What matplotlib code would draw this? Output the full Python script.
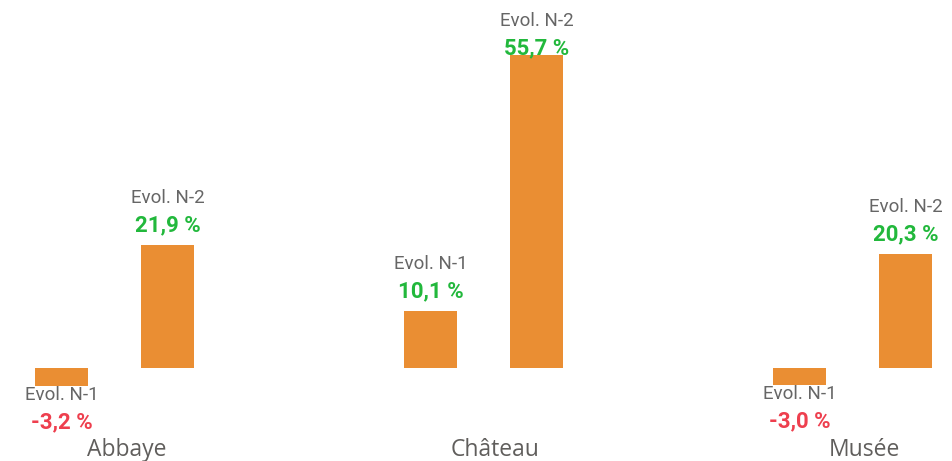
import matplotlib
matplotlib.use("Agg")
import matplotlib.pyplot as plt
import numpy as np

categories = ["Abbaye", "Château", "Musée"]
series_names = ["Evol. N-1", "Evol. N-2"]
evol_n1 = [-3.2, 10.1, -3.0]
evol_n2 = [21.9, 55.7, 20.3]
value_labels_n1 = ["-3,2 %", "10,1 %", "-3,0 %"]
value_labels_n2 = ["21,9 %", "55,7 %", "20,3 %"]

BAR = "#EA8E33"
GREEN = "#22B83C"
RED = "#EE3F4E"
GREY = "#666666"
CAT_GREY = "#605E5C"

W, H = 952, 461
fig = plt.figure(figsize=(W / 100, H / 100), dpi=100)
ax = fig.add_axes([0, 0, 1, 1])
ax.set_xlim(-0.3103, 2.2696)
ax.set_ylim(-16.55, 65.48)
ax.axis("off")

ymin, ymax = ax.get_ylim()
xmin, xmax = ax.get_xlim()
ppu = H / (ymax - ymin)      # pixels per data unit (y)
ppx = W / (xmax - xmin)      # pixels per data unit (x)

width = 0.1436
offsets = [-0.1436, 0.1436]
x = np.arange(len(categories))

for s, (vals, labs) in enumerate([(evol_n1, value_labels_n1), (evol_n2, value_labels_n2)]):
    xs = x + offsets[s]
    ax.bar(xs, vals, width=width, color=BAR, edgecolor="none")
    for xi, v, lab in zip(xs, vals, labs):
        col = GREEN if v >= 0 else RED
        if v >= 0:
            name_y = v + 47 / ppu
            name_y = min(name_y, ymax - 21 / ppu)
            val_y = name_y - 27 / ppu
        else:
            name_y = v - 9 / ppu
            val_y = v - 36 / ppu
        ax.text(xi, name_y, series_names[s], ha="center", va="center",
                fontsize=13.5, color=GREY, family="Roboto")
        ax.text(xi, val_y, lab, ha="center", va="center",
                fontsize=16, color=col, family="Roboto", fontweight="bold")

for xi, c in zip(x, categories):
    ax.text(xi + 12 / ppx, ymin + 11 / ppu, c, ha="center", va="center",
            fontsize=16.5, color=CAT_GREY, family="Open Sans")

fig.savefig("out.png", dpi=100)
